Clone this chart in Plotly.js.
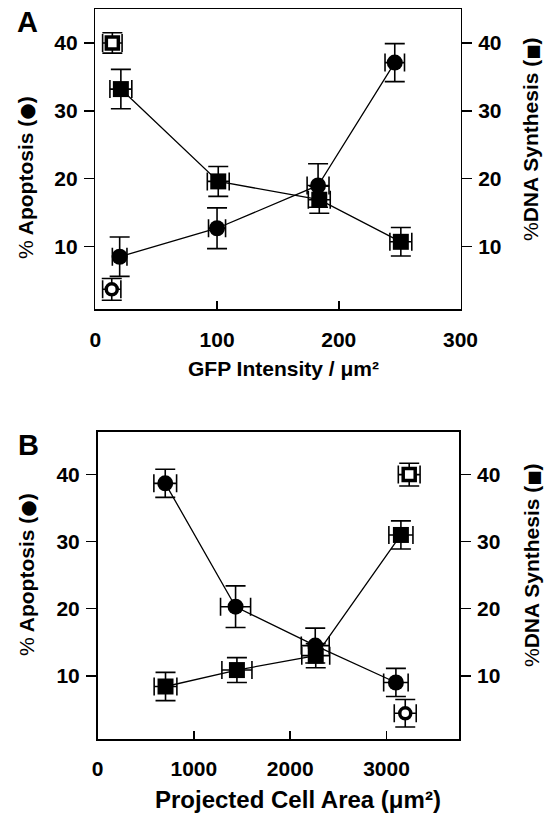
<!DOCTYPE html>
<html>
<head>
<meta charset="utf-8">
<script src="https://cdn.plot.ly/plotly-3.0.1.min.js"></script>
<style>html,body{margin:0;padding:0;background:#fff;}#chart{width:544px;height:813px;}</style>
</head>
<body>
<div id="chart"></div>
<script>
// ---- Panel A: GFP intensity ----
const apoA_x  = [20, 100, 183, 246];
const apoA_y  = [8.5, 12.7, 19.0, 37.1];
const apoA_ey = [2.9, 3.0, 3.2, 2.8];
const apoA_ex = [6, 7, 9, 8];
const dnaA_x  = [21, 101, 184, 251];
const dnaA_y  = [33.2, 19.6, 16.9, 10.7];
const dnaA_ey = [2.9, 2.2, 2.0, 2.1];
const dnaA_ex = [9, 9, 9, 9];
const ctrlA_apo = {x: [13.5], y: [3.7], ey: [1.6], ex: [7.5]};
const ctrlA_dna = {x: [14], y: [40.0], ey: [1.5], ex: [8]};

// ---- Panel B: projected cell area ----
const apoB_x  = [703, 1433, 2260, 3097];
const apoB_y  = [38.7, 20.3, 14.5, 9.0];
const apoB_ey = [2.1, 3.1, 2.6, 2.1];
const apoB_ex = [118, 156, 145, 127];
const dnaB_x  = [706, 1447, 2265, 3149];
const dnaB_y  = [8.4, 10.85, 13.0, 31.0];
const dnaB_ey = [2.1, 1.85, 1.8, 2.1];
const dnaB_ex = [118, 156, 145, 125];
const ctrlB_apo = {x: [3194], y: [4.4], ey: [2.05], ex: [114]};
const ctrlB_dna = {x: [3235], y: [40.0], ey: [1.7], ex: [113]};

const xTicksA = [0, 100, 200, 300];
const xTicksB = [0, 1000, 2000, 3000];
const yTicks = [10, 20, 30, 40];

const FONT = 'Arial, "Liberation Sans", sans-serif';
const BLACK = '#000';

function eb(arr, w) { return {type: 'data', array: arr, visible: true, color: BLACK, thickness: 1.6, width: w}; }

function series(x, y, ex, ey, sym, open, size, xa, ya, lineOn) {
  return {
    type: 'scatter', x: x, y: y, xaxis: xa, yaxis: ya,
    mode: lineOn ? 'lines+markers' : 'markers',
    line: {color: BLACK, width: 1.3},
    marker: {symbol: sym, size: size, color: open ? '#fff' : BLACK,
             line: {color: BLACK, width: open ? 3.5 : 0}},
    error_y: eb(ey, 10), error_x: eb(ex, 9),
    hoverinfo: 'skip', cliponaxis: false
  };
}

const data = [
  series(apoA_x, apoA_y, apoA_ex, apoA_ey, 'circle', false, 16, 'x', 'y', true),
  series(dnaA_x, dnaA_y, dnaA_ex, dnaA_ey, 'square', false, 16, 'x', 'y2', true),
  series(ctrlA_apo.x, ctrlA_apo.y, ctrlA_apo.ex, ctrlA_apo.ey, 'circle', true, 11, 'x', 'y', false),
  series(ctrlA_dna.x, ctrlA_dna.y, ctrlA_dna.ex, ctrlA_dna.ey, 'square', true, 12, 'x', 'y2', false),
  series(apoB_x, apoB_y, apoB_ex, apoB_ey, 'circle', false, 16, 'x3', 'y3', true),
  series(dnaB_x, dnaB_y, dnaB_ex, dnaB_ey, 'square', false, 16, 'x3', 'y4', true),
  series(ctrlB_apo.x, ctrlB_apo.y, ctrlB_apo.ex, ctrlB_apo.ey, 'circle', true, 11, 'x3', 'y3', false),
  series(ctrlB_dna.x, ctrlB_dna.y, ctrlB_dna.ex, ctrlB_dna.ey, 'square', true, 12, 'x3', 'y4', false)
];

const tickFont = {family: FONT, size: 21, color: BLACK, weight: 700};
function xax(domain, range, ticks, anchor, standoff) {
  return {domain: domain, range: range, anchor: anchor, tickmode: 'array', tickvals: ticks,
    ticktext: ticks.map(String), showline: true, mirror: true, linecolor: BLACK, linewidth: 1.5,
    ticks: 'inside', ticklen: 8, tickwidth: 1.5, tickcolor: BLACK, showgrid: false, zeroline: false,
    tickfont: tickFont, ticklabelstandoff: standoff, fixedrange: true};
}
function yax(domain, range, anchor, side, overlay) {
  const a = {range: range, anchor: anchor, side: side, tickmode: 'array', tickvals: yTicks,
    ticktext: yTicks.map(String), showline: true, linecolor: BLACK, linewidth: 1.5,
    ticks: 'outside', ticklen: 10, tickwidth: 1.5, tickcolor: BLACK, showgrid: false, zeroline: false,
    tickfont: tickFont, ticklabelstandoff: 2, fixedrange: true};
  if (overlay) a.overlaying = overlay; else a.domain = domain;
  return a;
}

const W = 544, H = 813;
function px(x) { return x / W; }
function py(y) { return (H - y) / H; }

function ann(text, x, y, size, angle) {
  return {text: text, x: px(x), y: py(y), xref: 'paper', yref: 'paper', xanchor: 'center', yanchor: 'middle',
    showarrow: false, textangle: angle || 0, font: {family: FONT, size: size, color: BLACK, weight: 400}};
}

const apoTitle = '%<b> Apoptosis (</b><span style="font-size:19px;font-family:\'DejaVu Sans\'">●</span><b>)</b>';
const dnaTitle = '%<b>DNA Synthesis (</b><span style="font-size:16px;font-family:\'DejaVu Sans\'">■</span><b>)</b>';

const layout = {
  width: W, height: H, margin: {l: 0, r: 0, t: 0, b: 0},
  paper_bgcolor: '#fff', plot_bgcolor: '#fff', showlegend: false,
  font: {family: FONT, color: BLACK},
  xaxis: xax([95.3 / W, 460.5 / W], [-0.01, 300.01], xTicksA, 'y', 11),
  yaxis: yax([py(309), py(9)], [0.8, 45], 'x', 'left'),
  yaxis2: yax(null, [0.8, 45], 'x', 'right', 'y'),
  xaxis3: xax([97.5 / W, 459.3 / W], [0, 3755], xTicksB, 'y3', 10),
  yaxis3: yax([py(739), py(431.7)], [0.57, 46.4], 'x3', 'left'),
  yaxis4: yax(null, [0.57, 46.4], 'x3', 'right', 'y3'),
  annotations: [
    ann('<b>A</b>', 27, 22, 29),
    ann('<b>B</b>', 28, 445, 29),
    ann(apoTitle, 25, 178, 21, -90),
    ann(dnaTitle, 530, 140, 21, -90),
    ann('<b>GFP Intensity / μm²</b>', 283, 369, 21),
    ann(apoTitle, 26, 575, 21, -90),
    ann(dnaTitle, 531, 566, 21, -90),
    ann('<b>Projected Cell Area (μm²)</b>', 298, 799, 24)
  ]
};

Plotly.newPlot('chart', data, layout, {staticPlot: true, displayModeBar: false});
</script>
</body>
</html>
